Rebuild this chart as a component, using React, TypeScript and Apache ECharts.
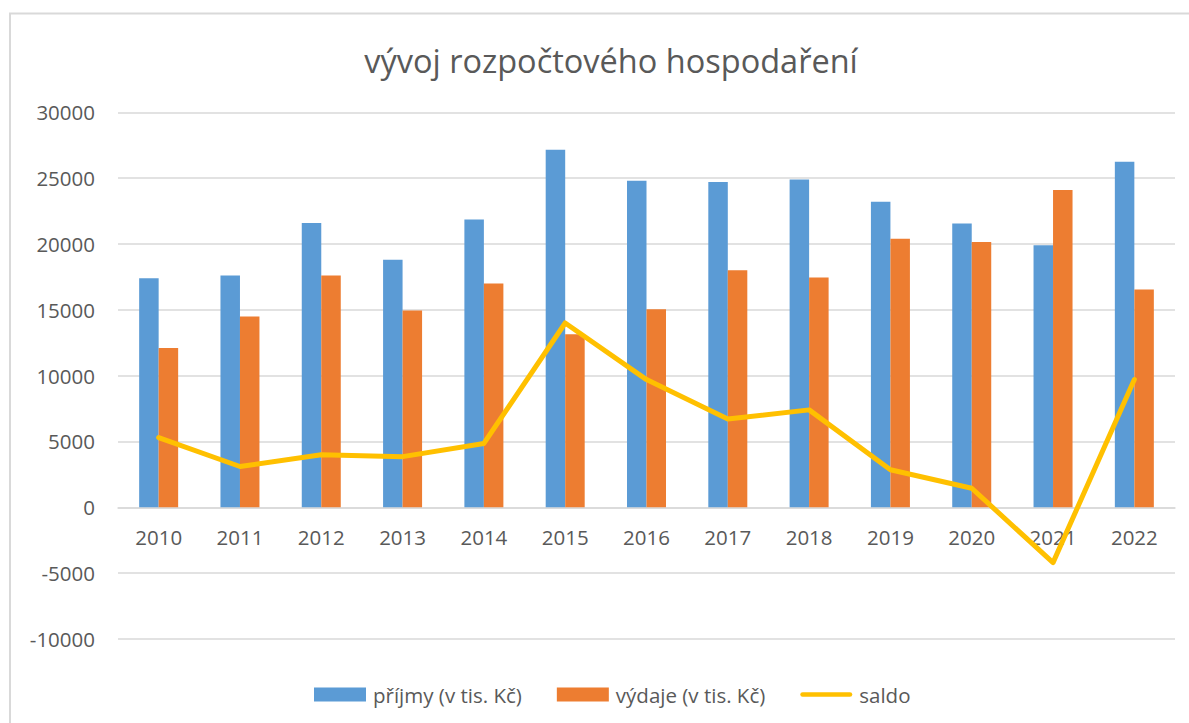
import React, { useEffect, useRef } from "react";
import * as echarts from "echarts";

const years = ["2010", "2011", "2012", "2013", "2014", "2015", "2016", "2017", "2018", "2019", "2020", "2021", "2022"];
const prijmy = [17400, 17600, 21600, 18800, 21850, 27150, 24800, 24700, 24900, 23200, 21550, 19900, 26250];
const vydaje = [12100, 14500, 17600, 14950, 17000, 13150, 15050, 18000, 17450, 20400, 20150, 24100, 16550];
const saldo = [5300, 3100, 4000, 3850, 4850, 14000, 9700, 6700, 7400, 2850, 1450, -4200, 9700];

const titleText = "vývoj rozpočtového hospodaření";
const seriesNames = ["příjmy (v tis. Kč)", "výdaje (v tis. Kč)", "saldo"];

const Y_MIN = -10000;
const Y_MAX = 30000;
const Y_STEP = 5000;

const FONT = "'Open Sans', 'DejaVu Sans', sans-serif";
const TEXT_COLOR = "#595959";

const GRID_TOP = 112.3;
const GRID_BOTTOM = 84;
const CHART_H = 723;

export default function App() {
  const ref = useRef<HTMLDivElement>(null);
  useEffect(() => {
    if (!ref.current) return;
    const chart = echarts.init(ref.current, undefined, { renderer: "svg" });
    // distance from the grid bottom (Y_MIN) up to value 0, so x-axis labels sit under the zero line
    const plotH = CHART_H - GRID_TOP - GRID_BOTTOM;
    const zeroOffset = (plotH * (0 - Y_MIN)) / (Y_MAX - Y_MIN);
    chart.setOption({
      animation: false,
      backgroundColor: "#ffffff",
      textStyle: { fontFamily: FONT },
      title: {
        text: titleText,
        left: 606,
        top: 39,
        textAlign: "center",
        textStyle: { fontFamily: FONT, fontSize: 32.5, fontWeight: "normal", color: TEXT_COLOR },
      },
      graphic: [
        {
          type: "rect",
          shape: { x: 10, y: 13.5, width: 1300, height: 900 },
          style: { fill: "none", stroke: "#D9D9D9", lineWidth: 2 },
          silent: true,
          z: -10,
        },
      ],
      legend: {
        left: 309,
        top: 679,
        itemWidth: 52,
        itemHeight: 14,
        itemGap: 35,
        symbolKeepAspect: true,
        textStyle: { fontFamily: FONT, fontSize: 20.5, color: TEXT_COLOR, padding: [0, 0, 0, 2] },
        data: [
          { name: seriesNames[0], icon: "rect" },
          { name: seriesNames[1], icon: "rect" },
          {
            name: seriesNames[2],
            icon: "path://M2.5,0 L53.5,0 A2.5,2.5 0 0 1 53.5,5 L2.5,5 A2.5,2.5 0 0 1 2.5,0 Z",
          },
        ],
      },
      grid: { left: 118, right: 14, top: GRID_TOP, bottom: GRID_BOTTOM, containLabel: false },
      xAxis: {
        type: "category",
        data: years,
        offset: -zeroOffset,
        axisLine: { show: true, onZero: false, lineStyle: { color: "#D9D9D9", width: 1.5 } },
        axisTick: { show: false },
        axisLabel: { fontFamily: FONT, fontSize: 20.5, color: TEXT_COLOR, margin: 19 },
        splitLine: { show: false },
      },
      yAxis: {
        type: "value",
        min: Y_MIN,
        max: Y_MAX,
        interval: Y_STEP,
        axisLine: { show: false },
        axisTick: { show: false },
        axisLabel: {
          fontFamily: FONT,
          fontSize: 20.5,
          color: TEXT_COLOR,
          margin: 23,
          formatter: (v: number) => String(v),
        },
        splitLine: { lineStyle: { color: "#D9D9D9", width: 1.5 } },
      },
      series: [
        {
          name: seriesNames[0],
          type: "bar",
          data: prijmy,
          barWidth: 19.5,
          barGap: "0%",
          itemStyle: { color: "#5B9BD5" },
        },
        {
          name: seriesNames[1],
          type: "bar",
          data: vydaje,
          barWidth: 19.5,
          barGap: "0%",
          itemStyle: { color: "#ED7D31" },
        },
        {
          name: seriesNames[2],
          type: "line",
          data: saldo,
          symbol: "none",
          z: 5,
          lineStyle: { color: "#FFC000", width: 5, cap: "round", join: "round" },
          itemStyle: { color: "#FFC000" },
        },
      ],
    });
    return () => chart.dispose();
  }, []);
  return (
    <div
      ref={ref}
      style={{ position: "fixed", left: 0, top: 0, width: 1189, height: 723, background: "#fff" }}
    />
  );
}
